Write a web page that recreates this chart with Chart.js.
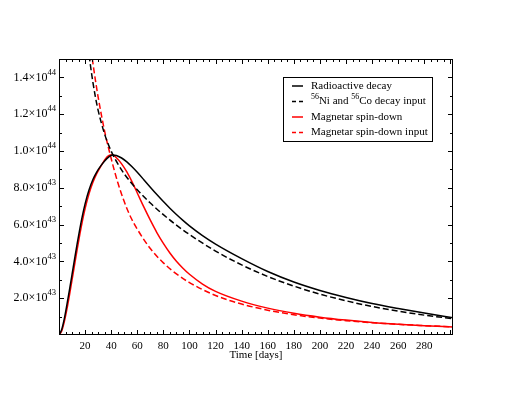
<!DOCTYPE html>
<html>
<head>
<meta charset="utf-8">
<script src="https://cdn.jsdelivr.net/npm/chart.js@4.4.1/dist/chart.umd.min.js"></script>
<style>
    html, body { margin: 0; padding: 0; background: #ffffff; }
    canvas { display: block; }
</style>
</head>
<body>
<canvas id="lcChart" width="510" height="395"></canvas>
<script>
// ---------- data (luminosity in units of 1e43 erg/s) ----------
const lcDays = [0, 2, 4, 6, 8, 10, 12, 14, 16, 18, 20, 23, 26, 29, 32, 35, 38, 41, 44, 48, 52, 56, 60,
    65, 70, 75, 80, 85, 90, 95, 100, 110, 120, 140, 160, 180, 200, 220, 240, 260, 280, 302];
const radioactiveLum = [0, 0.28, 0.86, 1.62, 2.44, 3.29, 4.15, 4.99, 5.78, 6.5, 7.13, 7.88, 8.45, 8.87, 9.19, 9.46, 9.67, 9.78, 9.76, 9.62, 9.41, 9.14, 8.84,
    8.44, 8.03, 7.63, 7.25, 6.89, 6.55, 6.23, 5.93, 5.4, 4.94, 4.15, 3.45, 2.88, 2.42, 2.04, 1.71, 1.44, 1.19, 0.94];
const magnetarLum = [0, 0.2, 0.7, 1.38, 2.16, 2.99, 3.84, 4.68, 5.48, 6.22, 6.87, 7.67, 8.3, 8.78, 9.16, 9.52, 9.75, 9.79, 9.63, 9.3, 8.86, 8.32, 7.72,
    6.96, 6.24, 5.57, 4.98, 4.46, 4.01, 3.63, 3.3, 2.77, 2.37, 1.84, 1.46, 1.18, 0.97, 0.81, 0.68, 0.58, 0.5, 0.44];

const inputDays = [18, 20, 22, 24, 26, 28, 30, 35, 40, 45, 50, 55, 60, 70, 80, 90, 100, 120, 140, 160, 180, 200, 220, 240, 260, 280, 302];
const nicoInput = [19.1, 17.35, 15.9, 14.71, 13.73, 12.9, 12.21, 10.91, 9.99, 9.31, 8.76, 8.3, 7.89, 7.17, 6.54, 5.97, 5.46, 4.56, 3.81, 3.18, 2.66, 2.22, 1.86, 1.55, 1.3, 1.08, 0.89];
const magnetarInput = [19.9, 18.4, 17.06, 15.86, 14.78, 13.81, 12.93, 11.07, 9.59, 8.3, 7.25, 6.4, 5.75, 4.7, 3.92, 3.32, 2.85, 2.15, 1.68, 1.35, 1.1, 0.92, 0.78, 0.67, 0.58, 0.51, 0.44];

const seriesLabels = ["Radioactive decay", "^56Ni and ^56Co decay input", "Magnetar spin-down", "Magnetar spin-down input"];

const xTickLabels = ["20", "40", "60", "80", "100", "120", "140", "160", "180", "200", "220", "240", "260", "280"];
const yTickValues = [2, 4, 6, 8, 10, 12, 14];
const yTickLabels = ["2.0×10^43", "4.0×10^43", "6.0×10^43", "8.0×10^43", "1.0×10^44", "1.2×10^44", "1.4×10^44"];
const xAxisTitle = "Time [days]";

const FONT = '"Liberation Serif", "Times New Roman", serif';

function toPoints(xs, ys) {
    return xs.map((x, i) => ({ x: x, y: ys[i] }));
}

// draws text with ^NN superscripts, returns width
function richText(ctx, text, x, y, size, measureOnly) {
    const parts = text.split(/\^(\d+)/);
    let cx = x;
    for (let i = 0; i < parts.length; i++) {
        if (!parts[i]) continue;
        const sup = i % 2 === 1;
        ctx.font = `${sup ? size * 0.72 : size}px ${FONT}`;
        if (!measureOnly) ctx.fillText(parts[i], cx, sup ? y - size * 0.42 : y);
        cx += ctx.measureText(parts[i]).width;
    }
    return cx - x;
}

const frameAndLegend = {
    id: "frameAndLegend",
    afterDraw(chart) {
        const ctx = chart.ctx;
        const xs = chart.scales.x;
        const ys = chart.scales.y;
        const { left, right, top, bottom } = chart.chartArea;

        ctx.save();
        ctx.strokeStyle = "#000";
        ctx.fillStyle = "#000";
        ctx.lineWidth = 1;

        // frame
        ctx.strokeRect(left + 0.5, top + 0.5, right - left - 1, bottom - top - 1);

        // x ticks (inward, bottom and top)
        ctx.beginPath();
        for (let d = 5; d < 302; d += 5) {
            const px = Math.round(xs.getPixelForValue(d)) + 0.5;
            const len = d % 20 === 0 ? 5 : 3;
            ctx.moveTo(px, bottom); ctx.lineTo(px, bottom - len);
            ctx.moveTo(px, top); ctx.lineTo(px, top + len);
        }
        // y ticks (inward, left and right)
        for (let v = 1; v < 15; v += 1) {
            const py = Math.round(ys.getPixelForValue(v)) + 0.5;
            const len = v % 2 === 0 ? 5 : 3;
            ctx.moveTo(left, py); ctx.lineTo(left + len, py);
            ctx.moveTo(right, py); ctx.lineTo(right - len, py);
        }
        ctx.stroke();

        // tick labels
        ctx.textBaseline = "middle";
        ctx.textAlign = "center";
        ctx.font = `11px ${FONT}`;
        xTickLabels.forEach(lbl => {
            ctx.fillText(lbl, xs.getPixelForValue(Number(lbl)), bottom + 11);
        });
        ctx.textAlign = "left";
        yTickLabels.forEach((lbl, i) => {
            const w = richText(ctx, lbl, 0, 0, 12, true);
            richText(ctx, lbl, left - 3 - w, ys.getPixelForValue(yTickValues[i]), 12, false);
        });

        // axis title
        ctx.textAlign = "center";
        ctx.font = `11px ${FONT}`;
        ctx.fillText(xAxisTitle, (left + right) / 2, bottom + 20);

        // legend
        const box = { x: 283, y: 77, w: 149, h: 64 };
        ctx.fillStyle = "#fff";
        ctx.fillRect(box.x, box.y, box.w, box.h);
        ctx.strokeStyle = "#000";
        ctx.strokeRect(box.x + 0.5, box.y + 0.5, box.w, box.h);
        ctx.textAlign = "left";
        chart.data.datasets.forEach((ds, i) => {
            const ry = box.y + 9 + i * 15.5;
            ctx.strokeStyle = ds.borderColor;
            ctx.lineWidth = 1.5;
            ctx.setLineDash(ds.borderDash ? [4, 3] : []);
            ctx.beginPath();
            ctx.moveTo(box.x + 9, ry);
            ctx.lineTo(box.x + 20, ry);
            ctx.stroke();
            ctx.setLineDash([]);
            ctx.fillStyle = "#000";
            richText(ctx, ds.label, box.x + 28, ry, 11, false);
        });
        ctx.restore();
    }
};

const lineStyle = {
    pointRadius: 0,
    borderWidth: 1.5,
    fill: false,
    cubicInterpolationMode: "monotone"
};

new Chart(document.getElementById("lcChart"), {
    type: "line",
    data: {
        datasets: [
            { ...lineStyle, label: seriesLabels[0], data: toPoints(lcDays, radioactiveLum), borderColor: "#000000" },
            { ...lineStyle, label: seriesLabels[1], data: toPoints(inputDays, nicoInput), borderColor: "#000000", borderDash: [6, 3] },
            { ...lineStyle, label: seriesLabels[2], data: toPoints(lcDays, magnetarLum), borderColor: "#ff0000" },
            { ...lineStyle, label: seriesLabels[3], data: toPoints(inputDays, magnetarInput), borderColor: "#ff0000", borderDash: [6, 3] }
        ]
    },
    options: {
        responsive: false,
        animation: false,
        devicePixelRatio: 1,
        layout: { padding: { left: 59, right: 57, top: 59, bottom: 60 } },
        plugins: {
            legend: { display: false },
            tooltip: { enabled: false }
        },
        scales: {
            x: { type: "linear", min: 0, max: 302, display: false },
            y: { type: "linear", min: 0, max: 15, display: false }
        }
    },
    plugins: [frameAndLegend]
});
</script>
</body>
</html>
